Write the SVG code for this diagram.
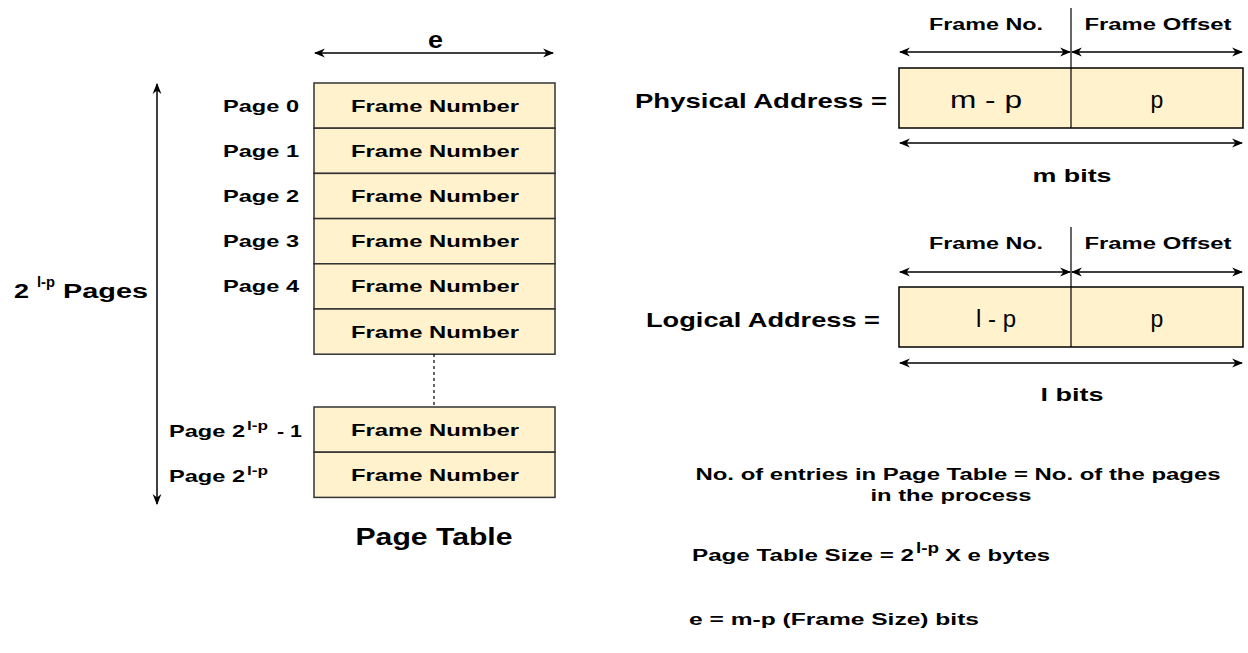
<svg xmlns="http://www.w3.org/2000/svg" width="1248" height="653" viewBox="0 0 1248 653">
<defs>
<marker id="ah" viewBox="0 0 10 10" refX="9" refY="5" markerWidth="11" markerHeight="11" markerUnits="userSpaceOnUse" orient="auto-start-reverse">
<path d="M0,1 L10,5 L0,9 L3,5 z" fill="#000"/>
</marker>
<style>
text{font-family:"Liberation Sans",Arial,sans-serif;fill:#000}
.b{font-weight:bold}
.cell{fill:#FFF2CC;stroke:#333;stroke-width:1.5}
.fn{font-size:17px;font-weight:bold;text-anchor:middle}
.pl{font-size:17px;font-weight:bold}
.sup{font-size:12px;font-weight:bold}
.dim{stroke:#000;stroke-width:1.5;fill:none;marker-start:url(#ah);marker-end:url(#ah)}
.hd{font-size:16px;font-weight:bold}
.ft{font-size:16px;font-weight:bold}
.big{font-size:23px;font-weight:normal}
</style>
</defs>
<rect width="1248" height="653" fill="#fff"/>

<g id="page-table">
<rect class="cell" x="314" y="83" width="241" height="45.2"/>
<rect class="cell" x="314" y="128.2" width="241" height="45.2"/>
<rect class="cell" x="314" y="173.4" width="241" height="45.2"/>
<rect class="cell" x="314" y="218.6" width="241" height="45.2"/>
<rect class="cell" x="314" y="263.8" width="241" height="45.2"/>
<rect class="cell" x="314" y="309" width="241" height="45.2"/>
<rect class="cell" x="314" y="407" width="241" height="45.2"/>
<rect class="cell" x="314" y="452.2" width="241" height="45.2"/>
<text class="fn" x="435" y="111.5" textLength="168" lengthAdjust="spacingAndGlyphs">Frame Number</text>
<text class="fn" x="435" y="156.7" textLength="168" lengthAdjust="spacingAndGlyphs">Frame Number</text>
<text class="fn" x="435" y="201.9" textLength="168" lengthAdjust="spacingAndGlyphs">Frame Number</text>
<text class="fn" x="435" y="247.1" textLength="168" lengthAdjust="spacingAndGlyphs">Frame Number</text>
<text class="fn" x="435" y="292.3" textLength="168" lengthAdjust="spacingAndGlyphs">Frame Number</text>
<text class="fn" x="435" y="337.5" textLength="168" lengthAdjust="spacingAndGlyphs">Frame Number</text>
<text class="fn" x="435" y="435.5" textLength="168" lengthAdjust="spacingAndGlyphs">Frame Number</text>
<text class="fn" x="435" y="480.7" textLength="168" lengthAdjust="spacingAndGlyphs">Frame Number</text>
</g>

<g id="page-labels">
<text class="pl" x="223" y="111.5" textLength="76" lengthAdjust="spacingAndGlyphs">Page 0</text>
<text class="pl" x="223" y="156.7" textLength="76" lengthAdjust="spacingAndGlyphs">Page 1</text>
<text class="pl" x="223" y="201.9" textLength="76" lengthAdjust="spacingAndGlyphs">Page 2</text>
<text class="pl" x="223" y="247.1" textLength="76" lengthAdjust="spacingAndGlyphs">Page 3</text>
<text class="pl" x="223" y="292.3" textLength="76" lengthAdjust="spacingAndGlyphs">Page 4</text>
<text class="pl" x="169" y="437" textLength="76" lengthAdjust="spacingAndGlyphs">Page 2</text>
<text class="sup" x="247" y="430" textLength="21" lengthAdjust="spacingAndGlyphs">l-p</text>
<text class="pl" x="277" y="437" textLength="25" lengthAdjust="spacingAndGlyphs">- 1</text>
<text class="pl" x="169" y="482" textLength="76" lengthAdjust="spacingAndGlyphs">Page 2</text>
<text class="sup" x="247" y="475" textLength="21" lengthAdjust="spacingAndGlyphs">l-p</text>
</g>

<g id="page-count-label">
<text class="b" x="14" y="298" font-size="20" textLength="15" lengthAdjust="spacingAndGlyphs">2</text>
<text class="b" x="37" y="287" font-size="14" textLength="18" lengthAdjust="spacingAndGlyphs">l-p</text>
<text class="b" x="63" y="298" font-size="20" textLength="85" lengthAdjust="spacingAndGlyphs">Pages</text>
</g>

<g id="e-label">
<text class="b" x="435.5" y="48" font-size="23" text-anchor="middle" textLength="15" lengthAdjust="spacingAndGlyphs">e</text>
</g>

<g id="page-table-title">
<text class="b" x="434" y="545" font-size="23" text-anchor="middle" textLength="157" lengthAdjust="spacingAndGlyphs">Page Table</text>
</g>

<g id="physical-address">
<text class="b" x="635" y="108" font-size="21" textLength="252" lengthAdjust="spacingAndGlyphs">Physical Address =</text>
<rect class="cell" x="899" y="68" width="344" height="60" style="stroke:#000"/>
<line x1="1071" y1="8" x2="1071" y2="128" stroke="#000" stroke-width="1.2"/>
<text class="big" x="986" y="108" text-anchor="middle" textLength="72" lengthAdjust="spacingAndGlyphs">m - p</text>
<text class="big" x="1157" y="108" text-anchor="middle">p</text>
<text class="hd" x="986" y="30" text-anchor="middle" textLength="114" lengthAdjust="spacingAndGlyphs">Frame No.</text>
<text class="hd" x="1158" y="30" text-anchor="middle" textLength="147" lengthAdjust="spacingAndGlyphs">Frame Offset</text>
<text class="b" x="1072" y="182" font-size="19" text-anchor="middle" textLength="79" lengthAdjust="spacingAndGlyphs">m bits</text>
</g>

<g id="logical-address">
<text class="b" x="646" y="327" font-size="21" textLength="234" lengthAdjust="spacingAndGlyphs">Logical Address =</text>
<rect class="cell" x="899" y="287" width="344" height="60" style="stroke:#000"/>
<line x1="1071" y1="227" x2="1071" y2="347" stroke="#000" stroke-width="1.2"/>
<text class="big" x="996" y="327" text-anchor="middle" textLength="40" lengthAdjust="spacingAndGlyphs">l - p</text>
<text class="big" x="1157" y="327" text-anchor="middle">p</text>
<text class="hd" x="986" y="249" text-anchor="middle" textLength="114" lengthAdjust="spacingAndGlyphs">Frame No.</text>
<text class="hd" x="1158" y="249" text-anchor="middle" textLength="147" lengthAdjust="spacingAndGlyphs">Frame Offset</text>
<text class="b" x="1072" y="401" font-size="19" text-anchor="middle" textLength="63" lengthAdjust="spacingAndGlyphs">l bits</text>
</g>

<g id="notes">
<text class="ft" x="958" y="480" text-anchor="middle" textLength="525" lengthAdjust="spacingAndGlyphs">No. of entries in Page Table = No. of the pages</text>
<text class="ft" x="951" y="501" text-anchor="middle" textLength="161" lengthAdjust="spacingAndGlyphs">in the process</text>
<text class="ft" x="692" y="561" textLength="222" lengthAdjust="spacingAndGlyphs">Page Table Size = 2</text>
<text class="b" x="916" y="553" font-size="14" textLength="23" lengthAdjust="spacingAndGlyphs">l-p</text>
<text class="ft" x="945" y="561" textLength="105" lengthAdjust="spacingAndGlyphs">X e bytes</text>
<text class="ft" x="689" y="625" textLength="290" lengthAdjust="spacingAndGlyphs">e = m-p (Frame Size) bits</text>
</g>

<g id="connectors">
<line class="dim" x1="315" y1="53" x2="553" y2="53"/>
<line class="dim" x1="157" y1="84" x2="157" y2="504"/>
<line x1="434" y1="354" x2="434" y2="407" stroke="#000" stroke-width="1.2" stroke-dasharray="3,3"/>
<line class="dim" x1="900" y1="52" x2="1070" y2="52"/>
<line class="dim" x1="1072" y1="52" x2="1242" y2="52"/>
<line class="dim" x1="900" y1="143" x2="1242" y2="143"/>
<line class="dim" x1="900" y1="272" x2="1070" y2="272"/>
<line class="dim" x1="1072" y1="272" x2="1242" y2="272"/>
<line class="dim" x1="900" y1="363" x2="1242" y2="363"/>
</g>
</svg>
